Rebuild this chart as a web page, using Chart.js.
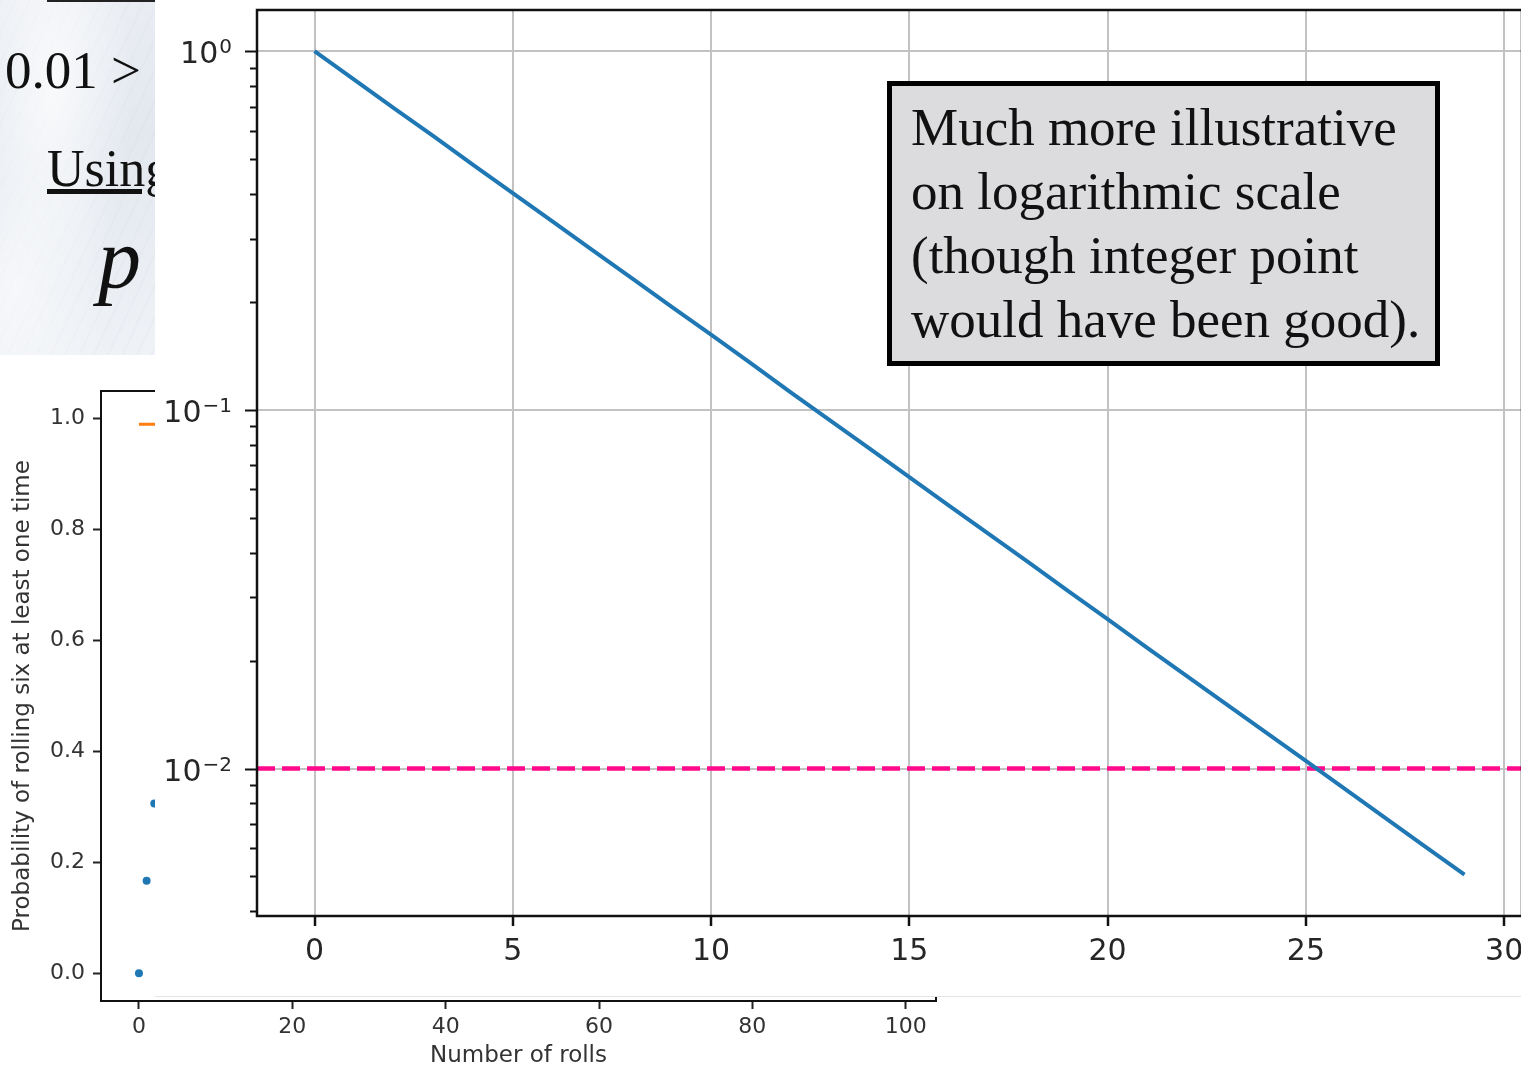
<!DOCTYPE html>
<html>
<head>
<meta charset="utf-8">
<title>Rolling a six</title>
<script src="https://cdn.jsdelivr.net/npm/chart.js@4"></script>
<style>
  html, body { margin: 0; padding: 0; width: 1521px; height: 1070px; overflow: hidden; background: #fff; }
  .slide-bg {
    position: absolute; left: 0; top: 0; width: 155px; height: 355px;
    background:
      radial-gradient(ellipse at 35% 25%, rgba(255,255,255,0.75), rgba(255,255,255,0) 55%),
      radial-gradient(ellipse at 10% 80%, rgba(255,255,255,0.6), rgba(255,255,255,0) 50%),
      repeating-linear-gradient(115deg, rgba(170,180,195,0.06) 0 2px, rgba(255,255,255,0) 2px 13px),
      linear-gradient(160deg, #eceff4 0%, #e3e8ef 45%, #eff2f6 100%);
  }
  .slide-text { position: absolute; font-family: "Liberation Serif", serif; color: #111; white-space: nowrap; }
  .clip { position: absolute; left: 0; top: 0; width: 155px; height: 355px; overflow: hidden; }
  #bg-wrap { position: absolute; left: 0; top: 355px; }
  #fg-wrap { position: absolute; left: 155px; top: 0; width: 1405px; height: 996px; background: #fff; border-bottom: 1px solid #e4e4e4; }
  .note {
    position: absolute; left: 887px; top: 81px; width: 524px; height: 266px;
    border: 5px solid #000; background: #dcdcdf;
    padding: 9px 0 0 19px; box-sizing: content-box;
    font-family: "Liberation Serif", serif; font-size: 53px; line-height: 64px; color: #111;
    white-space: nowrap;
  }
</style>
</head>
<body>
<div class="slide-bg"></div>
<div class="clip">
  <div style="position:absolute;left:47px;top:0;width:110px;height:2px;background:#222"></div>
  <div class="slide-text" style="left:5px;top:40px;font-size:53px">0.01 &gt;</div>
  <div class="slide-text" style="left:47px;top:139px;font-size:52px;text-decoration:underline">Using</div>
  <div class="slide-text" style="left:98px;top:208px;font-size:86px;font-style:italic">p</div>
</div>

<div id="bg-wrap"><canvas id="linChart" width="960" height="715"></canvas></div>
<div id="fg-wrap"><canvas id="logChart" width="1405" height="996"></canvas></div>

<div class="note">Much more illustrative<br>on logarithmic scale<br>(though integer point<br>would have been good).</div>

<script>
// linear plot behind: chance of at least one six
const linRolls = [0, 1, 2];
const atLeastOneSix = [0, 0.167, 0.306];
const targetLevel = 0.99;
const linXTicks = [0, 20, 40, 60, 80, 100];
const linYTicks = [0, 0.2, 0.4, 0.6, 0.8, 1.0];

// log plot in front: chance of no six after n rolls
const rolls = [0, 1, 2, 3, 4, 5, 6, 7, 8, 9, 10, 11, 12, 13, 14, 15, 16, 17, 18, 19, 20, 21, 22, 23, 24, 25, 26, 27, 28, 29];
const noSixProb = [1.0, 0.833, 0.694, 0.579, 0.482, 0.402, 0.335, 0.279, 0.233, 0.194,
  0.162, 0.135, 0.112, 0.0935, 0.0779, 0.0649, 0.0541, 0.0451, 0.0376, 0.0313,
  0.0261, 0.0217, 0.0181, 0.0151, 0.0126, 0.0105, 0.00874, 0.00728, 0.00607, 0.00506];
const threshold = 0.01;
const rollTicks = [0, 5, 10, 15, 20, 25, 30];
const logMajor = [1, 0.1, 0.01];
const logExponents = ['0', '\u22121', '\u22122'];
const logMinor = [0.9, 0.8, 0.7, 0.6, 0.5, 0.4, 0.3, 0.2,
  0.09, 0.08, 0.07, 0.06, 0.05, 0.04, 0.03, 0.02,
  0.009, 0.008, 0.007, 0.006, 0.005, 0.004];

Chart.defaults.font.family = 'DejaVu Sans';
Chart.defaults.color = '#262626';

// no extra room for half labels at the axis ends
const noEdgePad = s => { s.paddingTop = 0; s.paddingBottom = 0; s.paddingLeft = 0; s.paddingRight = 0; };

const frame = {
  id: 'frame',
  afterDatasetsDraw(chart, args, opts) {
    const a = chart.chartArea, ctx = chart.ctx;
    ctx.save();
    ctx.strokeStyle = '#111';
    ctx.lineWidth = opts.width || 2;
    ctx.strokeRect(a.left, a.top, a.right - a.left, a.bottom - a.top);
    ctx.restore();
  }
};

// log axis: short minor ticks, longer major ticks, labels as 10 with a raised exponent
const logTicks = {
  id: 'logTicks',
  afterDraw(chart) {
    const y = chart.scales.y, ctx = chart.ctx, left = chart.chartArea.left;
    ctx.save();
    ctx.strokeStyle = '#111';
    ctx.lineWidth = 2;
    logMajor.concat(logMinor).forEach(v => {
      const py = Math.round(y.getPixelForValue(v)) + 0.5;
      const len = logMajor.includes(v) ? 12 : 7;
      ctx.beginPath();
      ctx.moveTo(left - len, py);
      ctx.lineTo(left, py);
      ctx.stroke();
    });
    ctx.fillStyle = '#262626';
    ctx.textBaseline = 'alphabetic';
    ctx.textAlign = 'left';
    const right = left - 25;
    logMajor.forEach((v, i) => {
      const py = y.getPixelForValue(v);
      ctx.font = '20px "DejaVu Sans"';
      const ew = ctx.measureText(logExponents[i]).width;
      ctx.font = '30px "DejaVu Sans"';
      const bw = ctx.measureText('10').width;
      const x0 = right - ew - bw - 1;
      ctx.fillText('10', x0, py + 12);
      ctx.font = '20px "DejaVu Sans"';
      ctx.fillText(logExponents[i], x0 + bw + 1, py + 2);
    });
    ctx.restore();
  }
};

new Chart(document.getElementById('linChart'), {
  type: 'scatter',
  data: {
    datasets: [
      {
        data: linRolls.map((n, i) => ({ x: n, y: atLeastOneSix[i] })),
        backgroundColor: '#1f77b4', borderColor: '#1f77b4',
        pointRadius: 4, pointBorderWidth: 0
      },
      {
        type: 'line',
        data: [{ x: 0, y: targetLevel }, { x: 99, y: targetLevel }],
        borderColor: '#ff7f0e', borderWidth: 3, pointRadius: 0
      }
    ]
  },
  options: {
    responsive: false, devicePixelRatio: 1, animation: false,
    layout: { padding: { left: 0, top: 36, right: 24, bottom: 0 } },
    plugins: { legend: { display: false }, tooltip: { enabled: false }, frame: { width: 2 } },
    scales: {
      x: {
        type: 'linear', min: -4.95, max: 103.95,
        afterBuildTicks: s => { s.ticks = linXTicks.map(v => ({ value: v })); },
        afterFit: s => { s.height = 69; noEdgePad(s); },
        grid: { drawOnChartArea: false, tickLength: 8, tickColor: '#222', tickWidth: 2 },
        border: { display: false },
        ticks: { font: { size: 22 }, padding: 5, color: '#333' },
        title: { display: true, text: 'Number of rolls', font: { size: 23 }, color: '#333', padding: { top: 0, bottom: 0 } }
      },
      y: {
        min: -0.05, max: 1.05,
        afterBuildTicks: s => { s.ticks = linYTicks.map(v => ({ value: v })); },
        afterFit: s => { s.width = 101; noEdgePad(s); },
        grid: { drawOnChartArea: false, tickLength: 8, tickColor: '#222', tickWidth: 2 },
        border: { display: false },
        ticks: { font: { size: 22 }, padding: 8, color: '#333', callback: v => v.toFixed(1) },
        title: { display: true, text: 'Probability of rolling six at least one time', font: { size: 23 }, color: '#333', padding: { top: 9, bottom: 0 } }
      }
    }
  },
  plugins: [frame]
});

new Chart(document.getElementById('logChart'), {
  type: 'line',
  data: {
    datasets: [
      {
        data: rolls.map((n, i) => ({ x: n, y: noSixProb[i] })),
        borderColor: '#1f77b4', borderWidth: 4, pointRadius: 0, tension: 0
      },
      {
        data: [{ x: -1.45, y: threshold }, { x: 30.45, y: threshold }],
        borderColor: '#ff0a8c', borderWidth: 4.5, borderDash: [18, 7], pointRadius: 0
      }
    ]
  },
  options: {
    responsive: false, devicePixelRatio: 1, animation: false,
    layout: { padding: { left: 0, top: 10, right: 38, bottom: 0 } },
    plugins: { legend: { display: false }, tooltip: { enabled: false }, frame: { width: 2.5 } },
    scales: {
      x: {
        type: 'linear', min: -1.45, max: 30.45,
        afterBuildTicks: s => { s.ticks = rollTicks.map(v => ({ value: v })); },
        afterFit: s => { s.height = 80; noEdgePad(s); },
        grid: { color: '#c2c2c2', lineWidth: 2, tickLength: 10, tickColor: '#111', tickWidth: 2.5 },
        border: { display: false },
        ticks: { font: { size: 30 }, padding: 8, color: '#262626' }
      },
      y: {
        type: 'logarithmic', min: 0.00388, max: 1.302,
        afterBuildTicks: s => {
          s.ticks = logMajor.map(v => ({ value: v, major: true }))
            .concat(logMinor.map(v => ({ value: v, major: false })));
        },
        afterFit: s => { s.width = 102; noEdgePad(s); },
        grid: {
          drawTicks: false, lineWidth: 2,
          color: c => (c.tick && c.tick.major) ? '#c2c2c2' : 'rgba(0,0,0,0)'
        },
        border: { display: false },
        ticks: { display: false }
      }
    }
  },
  plugins: [frame, logTicks]
});
</script>
</body>
</html>
